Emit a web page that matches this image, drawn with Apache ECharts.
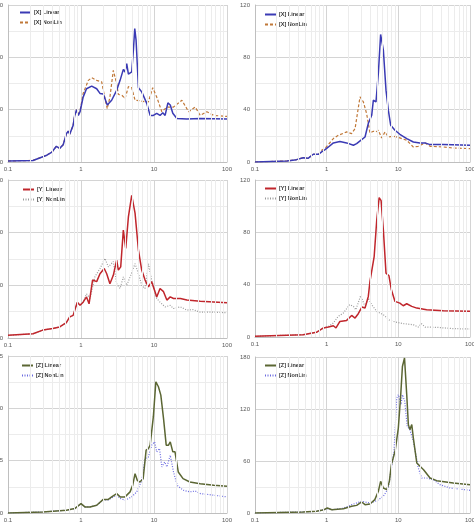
<!DOCTYPE html>
<html><head><meta charset="utf-8">
<script src="https://cdn.jsdelivr.net/npm/echarts@6/dist/echarts.min.js"></script>
<style>html,body{margin:0;padding:0;background:#fff}#c{width:474px;height:530px}</style>
</head><body><div id="c"></div>
<script>
// frequency minor grid values (log axis)
const minorFreqs = [0.2,0.3,0.4,0.5,0.6,0.7,0.8,0.9,2,3,4,5,6,7,8,9,20,30,40,50,60,70,80,90];
const yMaxes = [30,120,30,120,75,180];
const ySteps = [10,40,10,40,25,60];
const seriesNames = ['[X] Linear','[X] NonLin','[Y] Linear','[Y] NonLin','[Z] Linear','[Z] NonLin'];

// Panel 1: X, left
const x1LinF = [0.1,0.22,0.34,0.40,0.46,0.51,0.57,0.63,0.67,0.70,0.78,0.82,0.87,0.92,0.97,1.07,1.19,1.40,1.64,1.82,2.02,2.29,2.63,3.08,3.43,3.80,4.01,4.23,4.46,4.95,5.22,5.45,5.68,6.12,6.79,7.96,8.85,9.8,10.9,12.1,13.2,14.2,15.5,16.7,18.1,20.6,28.2,43,100];
const x1LinV = [0.2,0.3,1.3,1.9,3.0,2.6,3.3,5.4,5.9,5.3,7.0,8.9,10.0,8.9,9.6,12.4,14.0,14.5,14.0,13.1,13.0,10.9,11.8,13.7,15.6,17.7,17.2,18.8,16.8,17.2,21.4,25.5,23.3,14.2,13.4,11.2,8.9,8.9,9.3,8.9,9.4,8.9,11.3,10.9,9.3,8.3,8.2,8.3,8.2];
const x1NonF = [0.1,0.22,0.34,0.40,0.46,0.51,0.57,0.63,0.67,0.70,0.78,0.82,0.87,0.92,0.97,1.07,1.26,1.40,1.64,1.92,2.13,2.29,2.49,2.77,3.08,3.25,3.61,4.01,4.46,4.95,5.5,6.44,7.55,8.39,9.6,10.9,12.8,15.0,18.5,24.1,29.8,36.7,43,53,66,100];
const x1NonV = [0.2,0.3,1.3,1.9,3.0,2.6,3.3,5.4,5.9,5.3,7.0,8.9,10.0,9.2,9.8,13.1,15.6,16.1,15.6,15.3,12.1,10.2,12.4,17.5,15.0,12.9,12.8,12.1,14.4,14.2,11.8,11.7,11.5,11.5,14.2,12.4,9.6,10.5,10.5,11.8,9.6,10.5,8.9,9.6,8.9,8.7];

// Panel 2: X, right
const x2LinF = [0.1,0.28,0.38,0.47,0.55,0.65,0.77,0.85,0.95,1.06,1.24,1.53,1.90,2.36,2.62,3.08,3.43,3.81,4.25,4.48,4.88,5.26,5.66,6.18,6.73,7.25,7.82,8.98,10.5,13.1,16.2,20.0,23.6,27.7,42.5,100];
const x2LinV = [0,0.8,1.8,3.3,2.8,5.9,5.9,7.7,9.4,11.5,14.6,15.6,14.6,12.8,14.0,17.1,19.1,29.4,35.7,47.2,46.0,67.7,97.5,85.5,54.9,39.6,28.1,24.3,21.2,17.9,15.3,14.6,14.6,13.3,13.3,12.8];
const x2NonF = [0.1,0.28,0.38,0.47,0.55,0.65,0.77,0.85,0.95,1.06,1.24,1.455,1.90,2.23,2.49,2.92,3.25,3.61,4.02,4.48,4.88,5.26,5.85,6.52,7.25,8.51,10.5,13.1,16.2,19.0,23.6,27.7,42.5,58.5,100];
const x2NonV = [0,0.8,1.8,3.3,2.8,5.9,5.9,8.9,10.5,13.5,17.9,20.4,23.0,21.7,25.5,49.8,46.0,37.0,22.2,23.5,23.0,24.3,18.4,23.0,19.1,19.7,18.4,16.6,11.5,12.0,14.6,12.0,11.5,10.7,10.2];

// Panel 3: Y, left
const y1LinF = [0.1,0.22,0.30,0.41,0.51,0.63,0.70,0.78,0.89,0.97,1.07,1.19,1.29,1.44,1.64,1.82,2.08,2.25,2.49,2.77,3.08,3.25,3.5,3.8,4.1,4.46,4.95,5.5,6.12,6.79,7.55,8.39,9.3,10.9,12.1,13.5,15.0,16.7,18.5,23,28.2,43,100];
const y1LinV = [0.5,0.8,1.5,1.8,2.1,2.9,4.0,4.3,6.8,6.2,6.8,7.8,6.5,11.0,10.7,12.2,13.2,12.2,10.3,11.9,14.8,12.9,13.5,20.5,17.0,23.0,27.1,23.7,16.7,12.9,11.0,9.7,10.7,7.8,9.4,8.8,7.2,7.8,7.5,7.5,7.2,7.0,6.7];
const y1NonF = [0.1,0.22,0.30,0.41,0.51,0.63,0.70,0.78,0.89,0.97,1.07,1.19,1.33,1.55,1.82,2.13,2.37,2.77,3.08,3.43,3.8,4.23,4.8,5.5,6.12,6.79,7.55,8.39,9.3,10.9,12.1,14.2,16.7,18.5,23,28.2,34,43,66,100];
const y1NonV = [0.5,0.8,1.5,1.8,2.1,2.9,4.0,4.3,6.8,6.2,6.8,8.4,7.5,11.6,13.2,15.1,13.5,14.5,10.3,9.4,11.6,10.0,11.9,14.1,12.2,10.0,9.4,14.1,11.0,7.5,6.8,5.9,6.2,5.6,5.9,5.3,5.4,4.9,4.9,4.8];

// Panel 4: Y, right
const y2LinF = [0.1,0.47,0.72,0.90,1.06,1.24,1.35,1.53,1.90,2.23,2.49,2.76,3.10,3.43,3.81,4.02,4.25,4.6,5.0,5.4,5.75,6.18,6.73,7.4,8.0,8.98,10.5,11.7,13.1,15.4,18.1,24.8,42.5,100];
const y2LinV = [0.5,1.8,3.6,6.9,7.6,8.6,6.9,11.9,12.7,16.5,14.5,17.8,22.9,22.1,31.0,42.5,41.2,61.5,89.5,106.5,104.2,81.9,48.8,46.8,36.1,27.2,25.9,23.9,25.4,23.4,22.1,20.8,20.1,19.6];
const y2NonF = [0.1,0.47,0.72,0.90,1.06,1.24,1.45,1.71,2.1,2.36,2.55,2.98,3.43,3.81,4.25,5.0,6.18,7.6,9.5,11.7,16.2,19.0,21.0,23.6,34,58.5,100];
const y2NonV = [0.5,1.8,3.6,6.9,8.1,10.7,15.8,18.3,24.7,23.4,20.8,31.5,23.4,29.7,24.7,19.6,17.0,12.7,11.2,10.2,9.4,7.6,10.2,7.6,7.4,6.4,6.1];

// Panel 5: Z, left
const z1LinF = [0.1,0.30,0.46,0.63,0.82,1.0,1.13,1.33,1.64,2.02,2.37,2.63,3.08,3.43,4.01,4.7,5.1,5.5,5.9,6.4,7.1,7.8,8.4,8.85,9.8,10.6,11.5,12.4,13.5,14.7,15.8,16.7,18.1,19.4,21.5,25,31,43,66,100];
const z1LinV = [0,0.5,1.0,1.3,2.1,4.5,2.9,2.9,3.7,6.5,6.5,7.7,9.3,7.7,7.7,10.1,13.2,18.8,15.6,14.8,16.4,30.0,30.8,32.4,46.0,62.7,60.3,56.3,45.2,32.4,32.4,34.0,29.2,29.2,19.6,16.4,14.8,14.0,13.2,12.8];
const z1NonF = [0.1,0.30,0.46,0.63,0.82,1.0,1.13,1.33,1.64,2.02,2.37,2.63,3.08,3.43,4.01,4.23,4.95,5.8,6.8,7.55,8.39,9.3,10.2,10.9,11.9,12.8,14.0,15.0,16.7,18.5,20.8,25,31,36.7,43,66,100];
const z1NonV = [0,0.5,1.0,1.3,2.1,4.5,2.9,2.9,3.7,6.3,6.3,7.2,8.5,7.0,6.1,6.5,7.7,10.1,15.6,26.0,26.8,32.4,34.0,29.2,30.8,22.0,24.4,22.0,27.6,19.6,13.2,10.9,10.1,10.5,9.3,8.5,7.7];

// Panel 6: Z, right
const z2LinF = [0.1,0.47,0.72,0.92,1.02,1.18,1.71,2.23,2.62,3.08,3.43,4.02,4.7,5.26,5.66,6.18,6.9,7.5,8.0,9.0,10.0,10.8,11.4,12.2,13.1,13.8,14.5,15.4,16.2,18.1,22.5,27.7,34.3,58.5,100];
const z2LinV = [0,1.2,1.9,3.8,5.8,3.8,5.0,7.7,8.8,12.7,9.6,10.4,15.4,25.0,36.5,28.8,26.9,36.5,55.8,71.2,98.0,136.5,169.0,178.8,136.5,102.0,96.2,102.0,86.5,57.7,50.0,40.4,37.3,34.6,32.7];
const z2NonF = [0.1,0.47,0.72,0.92,1.02,1.18,1.71,2.23,3.08,4.02,5.0,6.18,7.25,8.0,8.7,9.5,10.0,10.9,11.4,12.3,13.3,14.5,16.2,19.0,21.2,24.8,30.7,38,53,100];
const z2NonV = [0,1.2,1.9,3.8,5.0,3.8,5.5,9.6,13.5,11.5,14.2,19.2,28.8,51.9,71.2,132.7,136.5,125.0,136.5,128.8,100.0,96.2,82.7,51.9,40.4,40.4,38.5,32.7,28.8,26.2];

function pairs(f, v) { const n = Math.min(f.length, v.length); const o = []; for (let i = 0; i < n; i++) o.push([f[i], v[i]]); return o; }

const styles = {
  X: { lin: '#3a3ab4', non: '#c07838', nonType: [3, 2] },
  Y: { lin: '#c0262c', non: '#9a9a9a', nonType: [1, 1.5] },
  Z: { lin: '#5b6633', non: '#6b6be0', nonType: [1, 1.5] }
};
const panels = [
  { k: 'X', lf: x1LinF, lv: x1LinV, nf: x1NonF, nv: x1NonV },
  { k: 'X', lf: x2LinF, lv: x2LinV, nf: x2NonF, nv: x2NonV },
  { k: 'Y', lf: y1LinF, lv: y1LinV, nf: y1NonF, nv: y1NonV },
  { k: 'Y', lf: y2LinF, lv: y2LinV, nf: y2NonF, nv: y2NonV },
  { k: 'Z', lf: z1LinF, lv: z1LinV, nf: z1NonF, nv: z1NonV },
  { k: 'Z', lf: z2LinF, lv: z2LinV, nf: z2NonF, nv: z2NonV }
];
const gridBoxes = [
  { left: 8, top: 5, width: 219, height: 157 },
  { left: 255, top: 5, width: 215, height: 157 },
  { left: 8, top: 180, width: 219, height: 158 },
  { left: 255, top: 180, width: 215, height: 157 },
  { left: 8, top: 356, width: 219, height: 157 },
  { left: 255, top: 357, width: 215, height: 156 }
];
const legendPos = [[19, 9.5], [264, 11.5], [22, 186.5], [264, 185.5], [21, 362.5], [264, 362.5]];

const font = 'Liberation Sans, Arial, sans-serif';
const option = { animation: false, backgroundColor: '#fff', grid: [], xAxis: [], yAxis: [], series: [], legend: [] };
panels.forEach((p, i) => {
  const st = styles[p.k];
  option.grid.push(Object.assign({ containLabel: false, outerBoundsMode: 'none' }, gridBoxes[i]));
  option.xAxis.push({
    type: 'log', logBase: 10, min: 0.1, max: 100, gridIndex: i,
    axisLine: { show: true, lineStyle: { color: '#bfbfbf', width: 1 } },
    axisTick: { show: false },
    axisLabel: { fontSize: 6, color: '#595959', fontFamily: font, margin: 4, showMinLabel: true, showMaxLabel: true,
      formatter: v => String(Math.round(v * 10) / 10) },
    splitLine: { show: true, lineStyle: { color: '#d4d4d4', width: 1 } }
  });
  option.yAxis.push({
    type: 'value', min: 0, max: yMaxes[i], interval: ySteps[i], gridIndex: i,
    axisLine: { show: true, lineStyle: { color: '#bfbfbf', width: 1 } },
    axisTick: { show: false },
    axisLabel: { fontSize: 6, color: '#595959', fontFamily: font, margin: 5 },
    splitLine: { show: true, lineStyle: { color: '#d4d4d4', width: 1 } },
    minorTick: { show: false, splitNumber: 2 },
    minorSplitLine: { show: true, lineStyle: { color: '#ececec', width: 1 } }
  });
  // minor vertical lines (log grid)
  option.series.push({
    type: 'line', xAxisIndex: i, yAxisIndex: i, data: [[1, 0]], symbol: 'none', silent: true, z: 1,
    lineStyle: { opacity: 0 }, legendHoverLink: false,
    markLine: { silent: true, symbol: ['none', 'none'], label: { show: false }, animation: false,
      lineStyle: { color: '#ececec', type: 'solid', width: 1 },
      emphasis: { disabled: true },
      data: minorFreqs.map(f => ({ xAxis: f })) }
  });
  option.series.push({
    name: '[' + p.k + '] NonLin', type: 'line', xAxisIndex: i, yAxisIndex: i, data: pairs(p.nf, p.nv),
    symbol: 'none', showSymbol: false, z: 3, color: st.non,
    lineStyle: { color: st.non, width: 1.2, type: st.nonType }
  });
  option.series.push({
    name: '[' + p.k + '] Linear', type: 'line', xAxisIndex: i, yAxisIndex: i, data: pairs(p.lf, p.lv),
    symbol: 'none', showSymbol: false, z: 4, color: st.lin,
    lineStyle: { color: st.lin, width: 1.5 }
  });
  option.legend.push({
    orient: 'vertical', left: legendPos[i][0], top: legendPos[i][1], padding: 0,
    itemWidth: 11, itemHeight: 5, itemGap: 4, selectedMode: false,
    itemStyle: { opacity: 0, borderWidth: 0 },
    data: ['[' + p.k + '] Linear', '[' + p.k + '] NonLin'],
    textStyle: { fontSize: 5.5, fontWeight: 'bold', color: '#333', fontFamily: font, padding: [0, 0, 0, -2] }
  });
});
const chart = echarts.init(document.getElementById('c'));
chart.setOption(option);
</script>
</body></html>
